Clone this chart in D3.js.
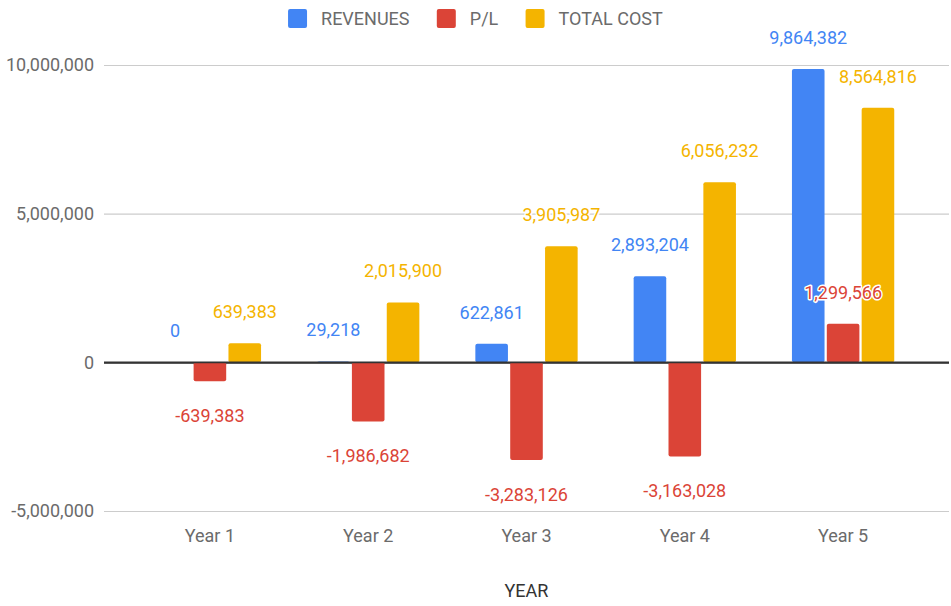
<!DOCTYPE html>
<html>
<head>
<meta charset="utf-8">
<script src="https://cdn.jsdelivr.net/npm/d3@7"></script>
<style>
  html, body { margin: 0; padding: 0; background: #fff; }
  svg { display: block; font-family: Roboto, "Noto Sans", sans-serif; }
</style>
</head>
<body>
<svg id="chart" width="951" height="606"></svg>
<script>
// Five-year financial summary
const years = ["Year 1", "Year 2", "Year 3", "Year 4", "Year 5"];
const seriesNames = ["REVENUES", "P/L", "TOTAL COST"];
const revenues = [0, 29218, 622861, 2893204, 9864382];
const profitLoss = [-639383, -1986682, -3283126, -3163028, 1299566];
const totalCost = [639383, 2015900, 3905987, 6056232, 8564816];
const yTicks = [-5000000, 0, 5000000, 10000000];
const seriesColors = ["#4285F4", "#DB4437", "#F4B400"];
const axisTitle = "YEAR";

const seriesValues = [revenues, profitLoss, totalCost];

const W = 951, H = 606;
const plot = { left: 104, right: 949, top: 65, bottom: 511 };

const svg = d3.select("#chart");

const y = d3.scaleLinear()
  .domain([-5000000, 10000000])
  .range([plot.bottom, plot.top]);

const x0 = d3.scaleBand()
  .domain(years)
  .range([plot.left, plot.right])
  .paddingInner(0)
  .paddingOuter(0.169);

const groupSpan = 102.3;
const x1 = d3.scaleBand()
  .domain(seriesNames)
  .range([x0.bandwidth() / 2 - groupSpan / 2, x0.bandwidth() / 2 + groupSpan / 2])
  .paddingInner(0.065)
  .paddingOuter(0);

// Thousands separators with a plain hyphen for negatives
const fmt = v => d3.format(",")(v).replace("\u2212", "-");

// Gridlines and y-axis labels
const yAxis = d3.axisLeft(y)
  .tickValues(yTicks)
  .tickSize(-(plot.right - plot.left))
  .tickPadding(10)
  .tickFormat(fmt);

const gy = svg.append("g")
  .attr("transform", `translate(${plot.left},0)`)
  .call(yAxis);
gy.select(".domain").remove();
gy.selectAll(".tick line")
  .attr("stroke", d => d === 0 ? "#333" : "#cccccc")
  .attr("stroke-width", d => d === 0 ? 1.6 : 1.2);
gy.selectAll(".tick text")
  .attr("fill", "#6b6b6b")
  .attr("font-size", 18)
  .attr("font-family", "Roboto, sans-serif");

// Category axis labels
const gx = svg.append("g")
  .attr("transform", `translate(0,${plot.bottom})`)
  .call(d3.axisBottom(x0).tickSize(0).tickPadding(0));
gx.select(".domain").remove();
gx.selectAll(".tick text")
  .attr("y", 31)
  .attr("dy", 0)
  .attr("fill", "#6b6b6b")
  .attr("font-size", 18)
  .attr("font-family", "Roboto, sans-serif");

// Axis title
svg.append("text")
  .attr("x", (plot.left + plot.right) / 2)
  .attr("y", 597)
  .attr("text-anchor", "middle")
  .attr("fill", "#333")
  .attr("font-size", 18)
  .text(axisTitle);

// Flatten data for drawing
const rows = [];
years.forEach((yr, i) => {
  seriesNames.forEach((s, j) => {
    rows.push({ year: yr, series: s, idx: j, value: seriesValues[j][i] });
  });
});

// Bars
const barG = svg.append("g");
barG.selectAll("rect")
  .data(rows.filter(d => d.value !== 0))
  .join("rect")
  .attr("x", d => x0(d.year) + x1(d.series))
  .attr("width", x1.bandwidth())
  .attr("y", d => Math.min(y(d.value), y(0)))
  .attr("height", d => Math.abs(y(d.value) - y(0)))
  .attr("rx", 2)
  .attr("fill", d => seriesColors[d.idx]);

// Redraw zero baseline above the bars
svg.append("line")
  .attr("x1", plot.left).attr("x2", plot.right)
  .attr("y1", y(0)).attr("y2", y(0))
  .attr("stroke", "#333").attr("stroke-width", 1.6);

// Value labels
svg.append("g").selectAll("text")
  .data(rows)
  .join("text")
  .attr("x", d => x0(d.year) + x1(d.series) + x1.bandwidth() / 2)
  .attr("y", d => d.value >= 0 ? y(d.value) - 25 : y(d.value) + 41)
  .attr("text-anchor", "middle")
  .attr("font-size", 18)
  .attr("fill", d => seriesColors[d.idx])
  .attr("stroke", "#fff")
  .attr("stroke-width", 3)
  .attr("stroke-linejoin", "round")
  .attr("paint-order", "stroke")
  .text(d => fmt(d.value));

// Legend, centered across the top
const legend = svg.append("g");
const sw = 19, gapSwatch = 14, gapItem = 27;
const items = legend.selectAll("g")
  .data(seriesNames)
  .join("g");
items.append("rect")
  .attr("width", sw).attr("height", sw)
  .attr("y", 9).attr("rx", 2)
  .attr("fill", (d, i) => seriesColors[i]);
items.append("text")
  .attr("x", sw + gapSwatch)
  .attr("y", 25)
  .attr("font-size", 18)
  .attr("fill", "#6b6b6b")
  .text(d => d);
const widths = [];
items.each(function() {
  widths.push(this.getBBox().width);
});
const total = d3.sum(widths) + gapItem * (widths.length - 1);
let cursor = W / 2 - total / 2;
items.attr("transform", (d, i) => {
  const t = `translate(${cursor},0)`;
  cursor += widths[i] + gapItem;
  return t;
});
</script>
</body>
</html>
